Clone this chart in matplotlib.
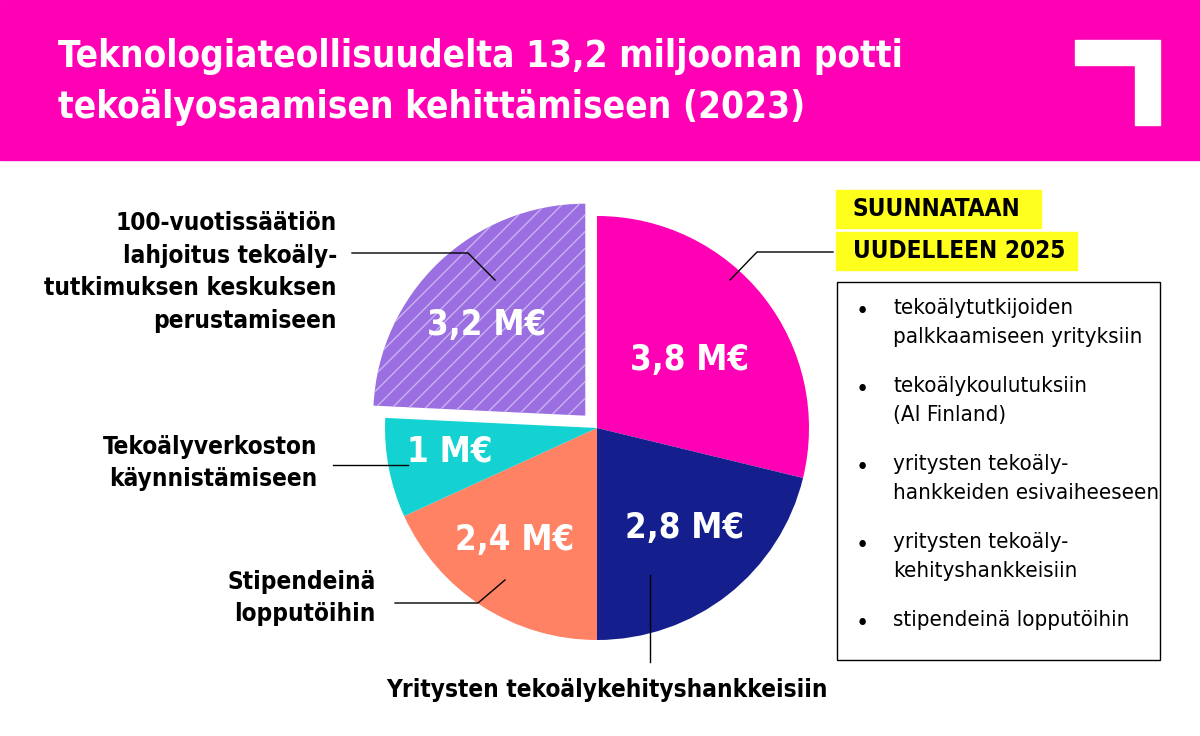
import matplotlib.pyplot as plt
from matplotlib.patches import Rectangle, Polygon

plt.rcParams["font.family"] = ["DejaVu Sans"]
plt.rcParams["font.stretch"] = "condensed"
plt.rcParams["hatch.linewidth"] = 1.0

values = [3.8, 2.8, 2.4, 1.0, 3.2]
value_labels = ["3,8 M€", "2,8 M€", "2,4 M€", "1 M€", "3,2 M€"]
colors = ["#ff00b4", "#141e8c", "#ff8264", "#14d2d2", "#9b6ee1"]
title = "Teknologiateollisuudelta 13,2 miljoonan potti\ntekoälyosaamisen kehittämiseen (2023)"
bullets = ["tekoälytutkijoiden\npalkkaamiseen yrityksiin", "tekoälykoulutuksiin\n(AI Finland)",
           "yritysten tekoäly-\nhankkeiden esivaiheeseen", "yritysten tekoäly-\nkehityshankkeisiin",
           "stipendeinä lopputöihin"]

H = 736
fig = plt.figure(figsize=(12, 7.36), dpi=100)
ax = fig.add_axes([0, 0, 1, 1])

def Y(y):
    return H - y

cx, cy, r = 597, Y(428), 212
wedges, _ = ax.pie(values, colors=colors, startangle=90, counterclock=False,
                   center=(cx, cy), radius=r, explode=[0, 0, 0, 0, 17],
                   wedgeprops=dict(linewidth=0))
wedges[4].set_hatch("//")
wedges[4].set_edgecolor("#c8b4f0")
wedges[4].set_linewidth(0)

ax.set_xlim(0, 1200)
ax.set_ylim(0, H)
ax.set_aspect("auto")
ax.axis("off")

# header
ax.add_patch(Rectangle((0, Y(160)), 1200, 160, color="#ff00b4", zorder=0))
ax.text(58, Y(82), title, fontsize=26.5, fontweight="bold", color="white", va="center",
        linespacing=1.5)
ax.add_patch(Polygon([(1075, Y(40)), (1160, Y(40)), (1160, Y(125)), (1135, Y(125)),
                      (1135, Y(65)), (1075, Y(65))], color="white"))

# value labels
for (x, y), t in zip([(690, 360), (685, 528), (515, 540), (450, 452), (487, 325)], value_labels):
    ax.text(x, Y(y), t, fontsize=25, fontweight="bold", color="white", ha="center", va="center")

# side labels and leader lines
kw = dict(fontsize=17.5, fontweight="bold", color="black", linespacing=1.45)
ax.text(337, Y(272), "100-vuotissäätiön\nlahjoitus tekoäly-\ntutkimuksen keskuksen\nperustamiseen",
        ha="right", va="center", **kw)
ax.plot([352, 468, 495], [Y(253), Y(253), Y(280)], color="black", lw=1)
ax.text(317, Y(463), "Tekoälyverkoston\nkäynnistämiseen", ha="right", va="center", **kw)
ax.plot([333, 408], [Y(465), Y(465)], color="black", lw=1)
ax.text(376, Y(598), "Stipendeinä\nlopputöihin", ha="right", va="center", **kw)
ax.plot([395, 478, 505], [Y(603), Y(603), Y(580)], color="black", lw=1)
ax.text(607, Y(690), "Yritysten tekoälykehityshankkeisiin", ha="center", va="center", **kw)
ax.plot([650, 650], [Y(575), Y(662)], color="black", lw=1)
ax.plot([730, 757, 833], [Y(280), Y(252), Y(252)], color="black", lw=1)

# highlighted heading
ax.add_patch(Rectangle((836, Y(228)), 205, 38, color="#ffff1e", zorder=1))
ax.add_patch(Rectangle((836, Y(270)), 241, 38, color="#ffff1e", zorder=1))
ax.text(853, Y(209), "SUUNNATAAN", ha="left", va="center", zorder=2, **kw)
ax.text(853, Y(251), "UUDELLEEN 2025", ha="left", va="center", zorder=2, **kw)

# bullet box
ax.add_patch(Rectangle((837, Y(660)), 323, 378, fill=False, edgecolor="black", lw=1))
for i, b in enumerate(bullets):
    y0 = 312 + i * 78
    ax.text(862, Y(y0), "•", fontsize=18, ha="center", va="center")
    ax.text(893, Y(y0 - 14), b, fontsize=16, ha="left", va="top", linespacing=1.55)

fig.savefig("out.png", dpi=100)
